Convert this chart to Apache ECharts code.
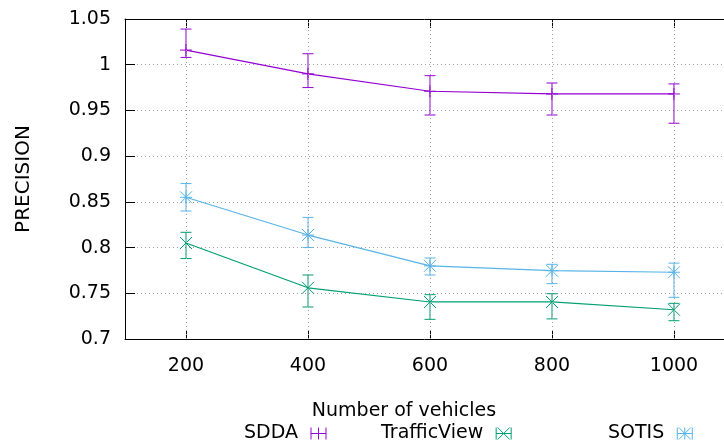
<!DOCTYPE html>
<html><head><meta charset="utf-8">
<script src="https://cdn.jsdelivr.net/npm/echarts@6/dist/echarts.min.js"></script>
<style>html,body{margin:0;padding:0;background:#fff}#c{width:724px;height:448px}</style>
</head><body><div id="c"></div>
<script>
const xValues = [200, 400, 600, 800, 1000];
const seriesNames = ['SDDA', 'TrafficView', 'SOTIS'];
const sddaMean  = [1.016, 0.990, 0.971, 0.968, 0.968];
const sddaLow   = [1.008, 0.975, 0.945, 0.945, 0.936];
const sddaHigh  = [1.039, 1.012, 0.988, 0.980, 0.979];
const tvMean    = [0.805, 0.756, 0.7405, 0.7405, 0.732];
const tvLow     = [0.788, 0.735, 0.7215, 0.722, 0.720];
const tvHigh    = [0.8167, 0.770, 0.7485, 0.7495, 0.739];
const sotisMean = [0.855, 0.8137, 0.780, 0.7747, 0.773];
const sotisLow  = [0.840, 0.800, 0.770, 0.7605, 0.7456];
const sotisHigh = [0.870, 0.833, 0.7886, 0.7817, 0.783];

const colors = ['#9400D3', '#009E73', '#56B4E9'];
const markers = ['plus', 'cross', 'star'];
const FONT = 'DejaVu Sans';
const GRID_COLOR = '#a0a0a0';
const X_MIN = 100, X_MAX = 1082;

function lineEl(x1, y1, x2, y2, c) {
  return {type: 'line', shape: {x1, y1, x2, y2}, style: {stroke: c, lineWidth: 1}};
}
function makeRender(marker) {
  return function (params, api) {
    const x = api.value(0), m = api.value(1), lo = api.value(2), hi = api.value(3);
    const pm = api.coord([x, m]), pl = api.coord([x, lo]), ph = api.coord([x, hi]);
    const c = api.visual('color');
    const cap = 5.5, s = 6;
    const ch = [
      lineEl(pl[0], pl[1], ph[0], ph[1], c),
      lineEl(pl[0] - cap, pl[1], pl[0] + cap, pl[1], c),
      lineEl(ph[0] - cap, ph[1], ph[0] + cap, ph[1], c)
    ];
    if (marker === 'plus' || marker === 'star') {
      ch.push(lineEl(pm[0] - s, pm[1], pm[0] + s, pm[1], c));
      ch.push(lineEl(pm[0], pm[1] - s, pm[0], pm[1] + s, c));
    }
    if (marker === 'cross' || marker === 'star') {
      ch.push(lineEl(pm[0] - s, pm[1] - s, pm[0] + s, pm[1] + s, c));
      ch.push(lineEl(pm[0] - s, pm[1] + s, pm[0] + s, pm[1] - s, c));
    }
    return {type: 'group', children: ch};
  };
}

const means = [sddaMean, tvMean, sotisMean];
const lows = [sddaLow, tvLow, sotisLow];
const highs = [sddaHigh, tvHigh, sotisHigh];

const series = [{
  type: 'line', data: [], silent: true, z: 1,
  markLine: {
    silent: true, symbol: 'none', animation: false,
    label: {show: false},
    lineStyle: {color: GRID_COLOR, type: [1, 3], width: 1},
    data: xValues.map(x => ({xAxis: x}))
  }
}];
seriesNames.forEach((name, i) => {
  series.push({
    name, type: 'line', color: colors[i],
    data: xValues.map((x, j) => [x, means[i][j]]),
    showSymbol: false, lineStyle: {width: 1.2, color: colors[i]},
    animation: false, z: 3
  });
  series.push({
    name, type: 'custom', color: colors[i],
    data: xValues.map((x, j) => [x, means[i][j], lows[i][j], highs[i][j]]),
    renderItem: makeRender(markers[i]),
    encode: {x: 0, y: [1, 2, 3]},
    animation: false, z: 4
  });
});

const icons = [
  'path://M0 0 L0 12 M0 6 L15 6 M15 0 L15 12 M7.5 0 L7.5 12',
  'path://M0 0 L0 12 M15 0 L15 12 M0 6 L15 6 M1.5 0 L13.5 12 M1.5 12 L13.5 0',
  'path://M0 0 L0 12 M15 0 L15 12 M0 6 L15 6 M1.5 0 L13.5 12 M1.5 12 L13.5 0 M7.5 0 L7.5 12'
];
const legendLeft = [239, 376, 603];
const legends = seriesNames.map((name, i) => ({
  left: legendLeft[i], top: 419, orient: 'horizontal', align: 'right',
  itemWidth: 15, itemHeight: 12, selectedMode: false,
  textStyle: {fontFamily: FONT, fontSize: 19, color: '#000', padding: [0, 8, 0, 0]},
  data: [{name, icon: icons[i], itemStyle: {color: 'transparent', borderColor: colors[i], borderWidth: 1}}]
}));

const tickVals = xValues.slice();
const chart = echarts.init(document.getElementById('c'), null, {renderer: 'canvas'});
chart.setOption({
  animation: false,
  backgroundColor: '#fff',
  grid: {left: 125, right: 0, top: 19, bottom: 109, show: false, containLabel: false},
  legend: legends,
  xAxis: [{
    type: 'value', min: X_MIN, max: X_MAX, position: 'bottom',
    name: 'Number of vehicles', nameLocation: 'middle', nameGap: 63,
    nameTextStyle: {fontFamily: FONT, fontSize: 19, color: '#000', padding: [0, 41, 0, 0]},
    axisLine: {show: true, lineStyle: {color: '#000', width: 1}},
    axisTick: {show: true, inside: true, length: 9, customValues: tickVals, lineStyle: {color: '#000'}},
    axisLabel: {show: true, customValues: tickVals, margin: 18, fontFamily: FONT, fontSize: 19, color: '#000',
      formatter: v => String(v)},
    splitLine: {show: false}
  }, {
    type: 'value', min: X_MIN, max: X_MAX, position: 'top',
    axisLine: {show: true, lineStyle: {color: '#000', width: 1}},
    axisTick: {show: true, inside: true, length: 9, customValues: tickVals, lineStyle: {color: '#000'}},
    axisLabel: {show: false},
    splitLine: {show: false}
  }],
  yAxis: {
    type: 'value', min: 0.7, max: 1.05, interval: 0.05,
    name: 'PRECISION', nameLocation: 'middle', nameGap: 91, nameRotate: 90,
    nameTextStyle: {fontFamily: FONT, fontSize: 20, color: '#000'},
    axisLine: {show: true, lineStyle: {color: '#000', width: 1}},
    axisTick: {show: true, inside: true, length: 10, lineStyle: {color: '#000'}},
    axisLabel: {margin: 14, fontFamily: FONT, fontSize: 19, color: '#000',
      formatter: v => String(parseFloat(v.toFixed(2)))},
    splitLine: {show: true, lineStyle: {color: GRID_COLOR, type: [1, 3], width: 1}}
  },
  series
});
</script></body></html>
